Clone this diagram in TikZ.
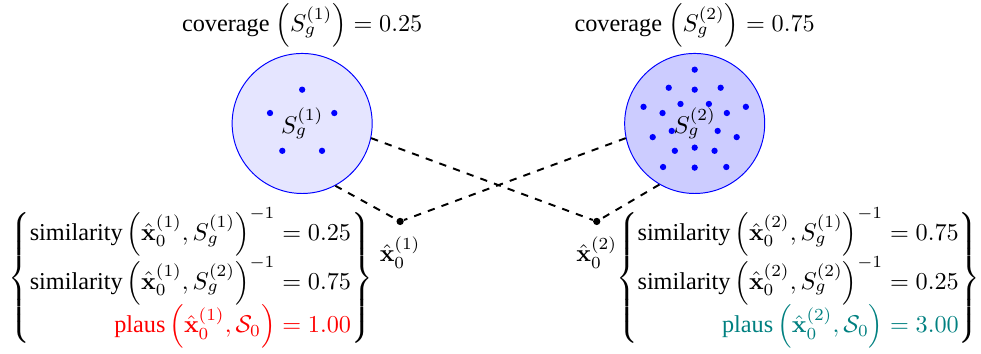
\documentclass[tikz,border=0pt]{standalone}
\usepackage{amsmath}
\usepackage[no-math]{fontspec}
\setmainfont{Liberation Serif}
\usepackage{xcolor}
\usetikzlibrary{positioning}
\newcommand{\xhat}[1]{\hat{\mathbf{x}}_0^{(#1)}}

\begin{document}
\begin{tikzpicture}[
  cluster/.style={circle, draw=blue, minimum size=2.03cm, inner sep=0pt},
  pt/.style={circle, fill=blue, inner sep=0pt, minimum size=2.6pt},
  sample/.style={circle, fill=black, inner sep=0pt, minimum size=3pt},
  link/.style={dashed, thick},
  cov/.style={inner sep=1pt}]
\useasboundingbox (0,0) rectangle (14.22,5.12);
\node[cluster, fill=blue!10] (c1) at (4.38,3.33) {};
\node[cluster, fill=blue!20] (c2) at (10.07,3.33) {};
% samples inside the two sets
\foreach \a [count=\i] in {90,162,234,306,378} \path (c1) ++(\a:0.49) node[pt] (c1d\i) {};
\foreach \r/\s [count=\j] in {0.35/-90, 0.49/90, 0.64/-90, 0.78/90}
  \foreach \k in {0,...,4} \path (c2) ++(\s+72*\k:\r) node[pt] (c2d\j\k) {};
\node (s1) at (c1) {$S_g^{(1)}$};
\node (s2) at (c2) {$S_g^{(2)}$};
\node[cov, above=1pt of c1] (cov1) {coverage $\left(S_g^{(1)}\right) = 0.25$};
\node[cov, above=1pt of c2] (cov2) {coverage $\left(S_g^{(2)}\right) = 0.75$};
\node[sample] (x1) at (5.80,1.91) {};
\node[sample] (x2) at (8.65,1.91) {};
\node[below=1pt of x1] (x1l) {$\xhat{1}$};
\node[below=1pt of x2] (x2l) {$\xhat{2}$};
\draw[link] (c1.-62) -- (x1); \draw[link] (c1.-12) -- (x2);
\draw[link] (c2.192) -- (x1); \draw[link] (c2.240) -- (x2);
\node (sim1) at (2.76,1.09) {$\left\{\begin{array}{@{}r@{}}
  \text{similarity}\left(\xhat{1}, S_g^{(1)}\right)^{-1} = 0.25\\
  \text{similarity}\left(\xhat{1}, S_g^{(2)}\right)^{-1} = 0.75\\
  \color{red}\text{plaus}\left(\xhat{1}, \mathcal{S}_0\right) = 1.00
\end{array}\right\}$};
\node (sim2) at (11.57,1.09) {$\left\{\begin{array}{@{}r@{}}
  \text{similarity}\left(\xhat{2}, S_g^{(1)}\right)^{-1} = 0.75\\
  \text{similarity}\left(\xhat{2}, S_g^{(2)}\right)^{-1} = 0.25\\
  \color{teal}\text{plaus}\left(\xhat{2}, \mathcal{S}_0\right) = 3.00
\end{array}\right\}$};
\end{tikzpicture}
\end{document}
